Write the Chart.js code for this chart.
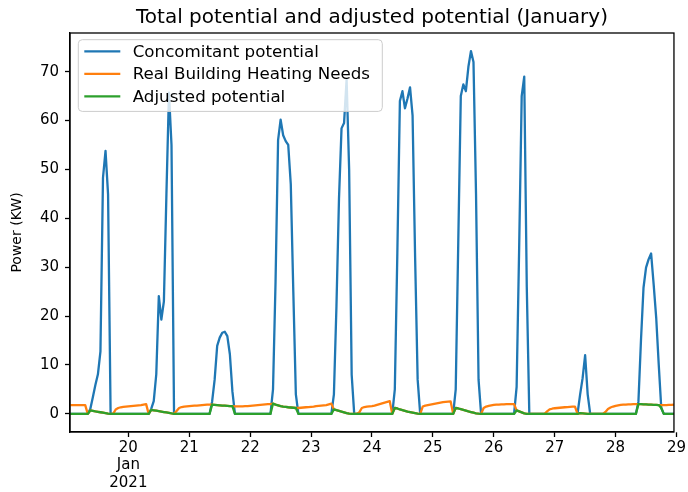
<!DOCTYPE html>
<html>
<head>
<meta charset="utf-8">
<script src="https://cdn.jsdelivr.net/npm/chart.js@4.4.1/dist/chart.umd.min.js"></script>
<style>
  body { margin: 0; background: #fff; }
</style>
</head>
<body>
<canvas id="chart" width="688" height="492"></canvas>
<script>
// hourly values from Jan 19 01:00 to Jan 29 00:00, one line per day
let concomitant = [
  0,0,0,0,0,0,0,0, 1.0,3.4,5.9,8.1,12.8,48.3,53.8,44.9, 0,0,0,0,0,0,0,0,
  0,0,0,0,0,0,0,0, 1.0,2.6,8.1,24.1,19.3,23,45,65.7,55, 0,0,0,0,0,0,0,
  0,0,0,0,0,0,0,0, 2.5,7,13.9,15.6,16.6,16.8,15.9,12.2,4.6, 0,0,0,0,0,0,0,
  0,0,0,0,0,0,0,0, 5,27,56,60.2,57,55.8,55,47,25,4, 0,0,0,0,0,0,
  0,0,0,0,0,0,0,0, 4,22,44,58.4,59.5,68.4,50,8, 0,0,0,0,0,0,0,0,
  0,0,0,0,0,0,0,0, 5,33,64,66,62.5,64.5,66.8,61,32,7, 0,0,0,0,0,0,
  0,0,0,0,0,0,0,0, 5,35,65,67.4,66,71,74.2,72,45,7, 0,0,0,0,0,0,
  0,0,0,0,0,0,0,0, 5.5,34,65,69,26, 0,0,0,0,0,0,0,0,0,0,0,
  0,0,0,0,0,0,0,0,0, 3.9,7.3,12,4, 0,0,0,0,0,0,0,0,0,0,0,
  0,0,0,0,0,0,0,0, 2.5,15,25.8,29.9,31.6,32.8,26.5,19.7,10.1,1.2, 0,0,0,0,0
]

let heatingNeeds = [
  1.8,1.8,1.8,1.8,1.8,1.8,1.8, 0, 0.7,0.6,0.5,0.42,0.33,0.24,0.15,0.05, 0,0, 0.9,1.2,1.35,1.45,1.5,1.55,
  1.6,1.65,1.7,1.75,1.8,1.9,2.0, 0, 0.8,0.72,0.64,0.56,0.48,0.38,0.28,0.18,0.08, 0, 0.6,1.2,1.4,1.5,1.55,1.6,
  1.65,1.7,1.7,1.75,1.8,1.85,1.9,1.9, 1.9,1.85,1.8,1.75,1.7,1.7,1.65,1.6,1.6, 1.55,1.55,1.55,1.55,1.6,1.6,1.65,
  1.7,1.75,1.8,1.85,1.9,1.95,2.0,2.0, 2.1,1.9,1.75,1.6,1.5,1.42,1.35,1.3,1.25,1.2, 1.2,1.25,1.3,1.35,1.4,1.45,
  1.5,1.6,1.65,1.7,1.75,1.8,1.95,2.1, 0.9,0.75,0.6,0.45,0.3,0.15,0.03, 0,0,0, 0.3,1.2,1.4,1.5,1.55,1.6,
  1.7,1.85,2.0,2.15,2.3,2.45,2.6, 0, 1.2,1.1,0.9,0.75,0.6,0.45,0.35,0.25,0.15,0.05, 0, 1.5,1.7,1.8,1.9,2.0,
  2.1,2.2,2.3,2.4,2.45,2.5,2.55, 0, 1.2,1.1,0.95,0.8,0.65,0.5,0.38,0.25,0.12,0.03, 0, 1.2,1.5,1.65,1.75,1.85,
  1.9,1.9,1.95,1.95,2.0,2.0,2.0,2.0, 0.7,0.5,0.3,0.1, 0,0,0,0,0,0,0,0, 0.5,0.9,1.05,1.15,
  1.2,1.25,1.3,1.35,1.4,1.45,1.5,1.5, 0, 0.15,0.1,0.05, 0,0,0,0,0,0,0, 0.4,1.0,1.3,1.5,1.65,
  1.75,1.85,1.9,1.9,1.95,1.95,2.0,2.0, 2.0,2.0,1.95,1.95,1.9,1.9,1.85,1.85,1.8,1.8, 1.8,1.8,1.85,1.85,1.9
]

let adjusted = [
  0,0,0,0,0,0,0,0, 0.7,0.6,0.5,0.42,0.33,0.24,0.15,0.05, 0,0,0,0,0,0,0,0,
  0,0,0,0,0,0,0,0, 0.8,0.72,0.64,0.56,0.48,0.38,0.28,0.18,0.08, 0,0,0,0,0,0,0,
  0,0,0,0,0,0,0,0, 1.9,1.85,1.8,1.75,1.7,1.7,1.65,1.6,1.6, 0,0,0,0,0,0,0,
  0,0,0,0,0,0,0,0, 2.1,1.9,1.75,1.6,1.5,1.42,1.35,1.3,1.25,1.2, 0,0,0,0,0,0,
  0,0,0,0,0,0,0,0, 0.9,0.75,0.6,0.45,0.3,0.15,0.03, 0,0,0,0,0,0,0,0,0,
  0,0,0,0,0,0,0,0, 1.2,1.1,0.9,0.75,0.6,0.45,0.35,0.25,0.15,0.05, 0,0,0,0,0,0,
  0,0,0,0,0,0,0,0, 1.2,1.1,0.95,0.8,0.65,0.5,0.38,0.25,0.12,0.03, 0,0,0,0,0,0,
  0,0,0,0,0,0,0,0, 0.7,0.5,0.3,0.1, 0,0,0,0,0,0,0,0,0,0,0,0,
  0,0,0,0,0,0,0,0,0, 0.15,0.1,0.05, 0,0,0,0,0,0,0,0,0,0,0,0,
  0,0,0,0,0,0,0,0, 2.0,2.0,1.95,1.95,1.9,1.9,1.85,1.85,1.8,1.2, 0,0,0,0,0
]

let dayLabels = ["20", "21", "22", "23", "24", "25", "26", "27", "28", "29"]
let monthLabel = ["Jan", "2021"]
let yTicks = [0, 10, 20, 30, 40, 50, 60, 70]
let titleText = "Total potential and adjusted potential (January)"

// x = hours since Jan 19 00:00
let hours = concomitant.map((v, i) => i + 1)

let peak = Math.max(...concomitant)
let yPad = peak * 0.05

function points(values) {
        return values.map((v, i) => ({ x: hours[i], y: v }))
}

let font = "DejaVu Sans"

let extras = {
        id: "extras",
        afterDatasetsDraw(chart) {
                let ctx = chart.ctx
                let a = chart.chartArea
                // legend box, upper left
                let bx = a.left + 8.3, by = a.top + 6.7
                ctx.save()
                ctx.beginPath()
                ctx.roundRect(bx, by, 304, 71.7, 4)
                ctx.fillStyle = "rgba(255,255,255,0.8)"
                ctx.fill()
                ctx.strokeStyle = "#cccccc"
                ctx.lineWidth = 1
                ctx.stroke()
                ctx.font = "16.7px '" + font + "'"
                ctx.textBaseline = "middle"
                ctx.textAlign = "left"
                chart.data.datasets.forEach((ds, i) => {
                        let ry = by + 11.7 + i * 22.5
                        ctx.beginPath()
                        ctx.moveTo(bx + 6, ry)
                        ctx.lineTo(bx + 42, ry)
                        ctx.strokeStyle = ds.borderColor
                        ctx.lineWidth = 2.3
                        ctx.stroke()
                        ctx.fillStyle = "#000"
                        ctx.fillText(ds.label, bx + 54.4, ry + 1)
                })
                ctx.restore()
        },
        afterDraw(chart) {
                let ctx = chart.ctx
                let a = chart.chartArea
                ctx.save()
                ctx.strokeStyle = "#000"
                ctx.lineWidth = 1.3
                ctx.strokeRect(a.left, a.top, a.right - a.left, a.bottom - a.top)
                ctx.fillStyle = "#000"
                ctx.font = "20px '" + font + "'"
                ctx.textAlign = "center"
                ctx.textBaseline = "middle"
                ctx.fillText(titleText, (a.left + a.right) / 2, 17.5)
                ctx.restore()
        }
}

let myChart = new Chart(document.getElementById("chart"), {
        type: "line",
        data: {
                datasets: [
                        { label: "Concomitant potential", data: points(concomitant), borderColor: "#1f77b4", order: 3 },
                        { label: "Real Building Heating Needs", data: points(heatingNeeds), borderColor: "#ff7f0e", order: 2 },
                        { label: "Adjusted potential", data: points(adjusted), borderColor: "#2ca02c", order: 1 }
                ]
        },
        options: {
                responsive: false,
                animation: false,
                devicePixelRatio: 1,
                layout: { padding: { left: 0, right: 9, top: 33, bottom: 0 } },
                elements: {
                        point: { radius: 0 },
                        line: { borderWidth: 2.3, tension: 0, borderJoinStyle: "round", fill: false }
                },
                plugins: {
                        legend: { display: false },
                        title: { display: false },
                        tooltip: { enabled: false }
                },
                scales: {
                        x: {
                                type: "linear",
                                min: hours[0],
                                max: hours[hours.length - 1],
                                afterBuildTicks: s => { s.ticks = dayLabels.map((d, i) => ({ value: 24 * (i + 1) })) },
                                afterFit: s => { s.height = 60 },
                                ticks: {
                                        autoSkip: false,
                                        maxRotation: 0,
                                        color: "#000",
                                        padding: 2,
                                        font: { family: font, size: 15, lineHeight: 1.17 },
                                        callback: v => {
                                                let i = Math.round(v / 24) - 1
                                                if (i == 0) return [dayLabels[0]].concat(monthLabel)
                                                return dayLabels[i]
                                        }
                                },
                                grid: { drawOnChartArea: false, color: "#000", tickLength: 5, tickWidth: 1.3 },
                                border: { color: "#000", width: 1.3 }
                        },
                        y: {
                                min: -yPad,
                                max: peak + yPad,
                                afterBuildTicks: s => { s.ticks = yTicks.map(v => ({ value: v })) },
                                afterFit: s => { s.width = 70 },
                                ticks: {
                                        color: "#000",
                                        padding: 6,
                                        font: { family: font, size: 15 }
                                },
                                title: {
                                        display: true,
                                        text: "Power (KW)",
                                        color: "#000",
                                        font: { family: font, size: 14 },
                                        padding: { top: 9, bottom: 0 }
                                },
                                grid: { drawOnChartArea: false, color: "#000", tickLength: 5, tickWidth: 1.3 },
                                border: { color: "#000", width: 1.3 }
                        }
                }
        },
        plugins: [extras]
})
</script>
</body>
</html>
